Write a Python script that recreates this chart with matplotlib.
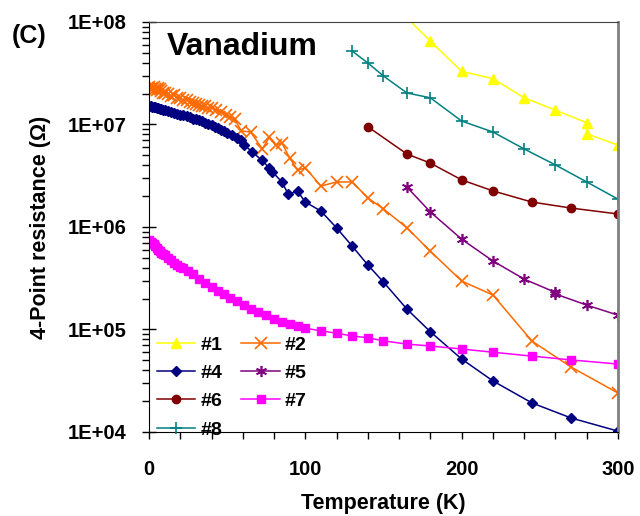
import matplotlib
matplotlib.use("Agg")
import matplotlib.pyplot as plt
import numpy as np
from matplotlib.ticker import FixedLocator, FuncFormatter, LogLocator, NullFormatter, MultipleLocator

plt.rcParams["font.family"] = ["Liberation Sans", "DejaVu Sans"]
plt.rcParams["font.weight"] = "bold"

# ── data ──────────────────────────────────────────────────────────
t1 = [160, 180, 200, 220, 240, 260, 280, 280, 300]
r1 = [1.3e8, 6.5e7, 3.3e7, 2.8e7, 1.82e7, 1.38e7, 1.04e7, 8.1e6, 6.3e6]

t2 = [0, 1, 2, 3, 4, 5, 6, 7, 8, 9, 10, 12, 14, 16, 18, 20, 22, 24, 26, 28,
      30, 32, 34, 36, 38, 40, 43, 46, 49, 52, 55, 59, 65, 72.5, 77, 81, 85,
      90, 95, 100, 110, 120, 130, 140, 150, 165, 180, 200, 220, 245, 270, 300]
r2 = [2.3e7, 2.2e7, 2.25e7, 2.3e7, 2.2e7, 2.15e7, 2.25e7, 2.2e7, 2.1e7, 2.05e7,
      2.05e7, 2.0e7, 1.9e7, 1.95e7, 1.82e7, 1.8e7, 1.72e7, 1.75e7, 1.65e7, 1.62e7,
      1.6e7, 1.55e7, 1.52e7, 1.5e7, 1.45e7, 1.45e7, 1.38e7, 1.32e7, 1.25e7, 1.18e7,
      1.12e7, 8.65e6, 8.45e6, 5.77e6, 7.55e6, 6.3e6, 6.6e6, 4.7e6, 3.6e6, 3.77e6,
      2.51e6, 2.75e6, 2.75e6, 1.92e6, 1.5e6, 9.8e5, 5.8e5, 2.97e5, 2.17e5, 7.7e4,
      4.3e4, 2.4e4]

t4 = [0, 1, 2, 3, 4, 5, 6, 7, 8, 9, 10, 12, 14, 16, 18, 20, 22, 24, 26, 28,
      30, 32, 34, 36, 38, 40, 42, 44, 46, 48, 50, 53, 56, 59, 61, 66, 72, 77,
      79, 85, 89, 95, 100, 110, 120, 130, 140, 150, 165, 180, 200, 220, 245,
      270, 300]
r4 = [1.5e7, 1.5e7, 1.49e7, 1.48e7, 1.47e7, 1.45e7, 1.44e7, 1.42e7, 1.41e7, 1.39e7,
      1.38e7, 1.35e7, 1.32e7, 1.3e7, 1.27e7, 1.25e7, 1.23e7, 1.2e7, 1.17e7, 1.14e7,
      1.12e7, 1.1e7, 1.07e7, 1.04e7, 1.01e7, 9.8e6, 9.5e6, 9.2e6, 8.9e6, 8.6e6,
      8.3e6, 7.9e6, 7.4e6, 7.05e6, 6.3e6, 5.4e6, 4.5e6, 3.77e6, 3.44e6, 2.75e6,
      2.1e6, 2.24e6, 1.75e6, 1.43e6, 9.8e5, 6.5e5, 4.26e5, 2.9e5, 1.58e5, 9.5e4,
      5.15e4, 3.15e4, 1.92e4, 1.37e4, 1.02e4]

t5 = [165, 180, 200, 220, 240, 260, 260, 280, 300]
r5 = [2.45e6, 1.4e6, 7.6e5, 4.66e5, 3.1e5, 2.3e5, 2.22e5, 1.73e5, 1.38e5]

t6 = [140, 165, 180, 200, 220, 245, 270, 300]
r6 = [9.5e6, 5.15e6, 4.2e6, 2.88e6, 2.25e6, 1.75e6, 1.53e6, 1.34e6]

t7 = [0, 1, 2, 3, 4, 5, 6, 7, 8, 9, 10, 12, 14, 16, 18, 20, 22, 25, 28, 32,
      36, 40, 44, 48, 52, 56, 61, 65, 70, 75, 80, 85, 90, 95, 100, 110, 120,
      130, 140, 150, 165, 180, 200, 220, 245, 270, 300]
r7 = [7.5e5, 7.2e5, 7.0e5, 6.75e5, 6.5e5, 6.25e5, 6.0e5, 5.8e5, 5.6e5, 5.45e5,
      5.3e5, 5.0e5, 4.75e5, 4.5e5, 4.3e5, 4.1e5, 3.95e5, 3.7e5, 3.45e5, 3.1e5,
      2.85e5, 2.6e5, 2.4e5, 2.22e5, 2.05e5, 1.88e5, 1.73e5, 1.6e5, 1.48e5, 1.38e5,
      1.28e5, 1.18e5, 1.12e5, 1.07e5, 1.03e5, 9.7e4, 9.2e4, 8.65e4, 8.3e4, 7.75e4,
      7.2e4, 6.9e4, 6.45e4, 6.0e4, 5.5e4, 5.05e4, 4.6e4]

t8 = [130, 140, 150, 165, 180, 200, 220, 240, 260, 280, 300]
r8 = [5.2e7, 3.98e7, 2.97e7, 2.03e7, 1.82e7, 1.08e7, 8.45e6, 5.77e6, 4.03e6,
      2.75e6, 1.87e6]

SERIES = [
    ("#1", t1, r1, dict(color="#FFFF00", marker="^", ms=7)),
    ("#2", t2, r2, dict(color="#FF6A00", marker="x", ms=8, mew=1.2)),
    ("#4", t4, r4, dict(color="#000080", marker="D", ms=5.5)),
    ("#5", t5, r5, dict(color="#800080", marker=(6, 2, 0), ms=8, mew=1.2)),
    ("#6", t6, r6, dict(color="#800000", marker="o", ms=6)),
    ("#7", t7, r7, dict(color="#FF00FF", marker="s", ms=6)),
    ("#8", t8, r8, dict(color="#008080", marker="+", ms=8, mew=1.2)),
]

fig = plt.figure(figsize=(6.4, 5.16), dpi=100)
ax = fig.add_axes([0.2328, 0.1628, 0.7328, 0.7946])

handles = {}
for name, t, r, sty in SERIES:
    (h,) = ax.plot(t, r, lw=1.1, label=name, markeredgecolor=sty["color"], **sty)
    handles[name] = h

ax.set_yscale("log")
ax.set_xlim(0, 300)
ax.set_ylim(1e4, 1e8)

ax.yaxis.set_major_locator(FixedLocator([1e4, 1e5, 1e6, 1e7, 1e8]))
ax.yaxis.set_major_formatter(FuncFormatter(lambda v, p: f"1E+{int(round(np.log10(v))):02d}"))
ax.yaxis.set_minor_locator(LogLocator(base=10, subs=np.arange(2, 10)))
ax.yaxis.set_minor_formatter(NullFormatter())
ax.xaxis.set_major_locator(MultipleLocator(100))
ax.xaxis.set_minor_locator(MultipleLocator(20))

ax.tick_params(axis="y", which="major", direction="inout", length=10, width=1, pad=11, labelsize=14.5)
ax.tick_params(axis="y", which="minor", direction="out", length=5, width=1)
ax.tick_params(axis="x", which="both", direction="out", length=5, width=1, pad=15, labelsize=14.5)

ax.spines["left"].set_color("black")
ax.spines["bottom"].set_color("black")
ax.spines["top"].set_color("#404040")
ax.spines["top"].set_linewidth(0.8)
ax.spines["right"].set_color("#808080")
ax.spines["right"].set_linewidth(2)

ax.set_xlabel("Temperature (K)", fontsize=15.5, fontweight="bold", labelpad=10)
ax.set_ylabel("4-Point resistance (Ω)", fontsize=15.5, fontweight="bold", labelpad=12)

ax.text(0.038, 0.94, "Vanadium", transform=ax.transAxes, fontsize=23,
        fontweight="bold", va="center", ha="left")
fig.text(0.018, 0.930, "(C)", fontsize=18, fontweight="bold", va="center", ha="left")

order = ["#1", "#4", "#6", "#8", "#2", "#5", "#7"]
ax.legend([handles[k] for k in order], order, ncol=2, loc="upper left",
          bbox_to_anchor=(0.017, 0.234), frameon=False,
          prop=dict(size=14, weight="bold"), labelspacing=0.55,
          handlelength=1.96, handletextpad=0.26, columnspacing=1.0,
          borderaxespad=0, borderpad=0)

fig.savefig("out.png", dpi=100)
